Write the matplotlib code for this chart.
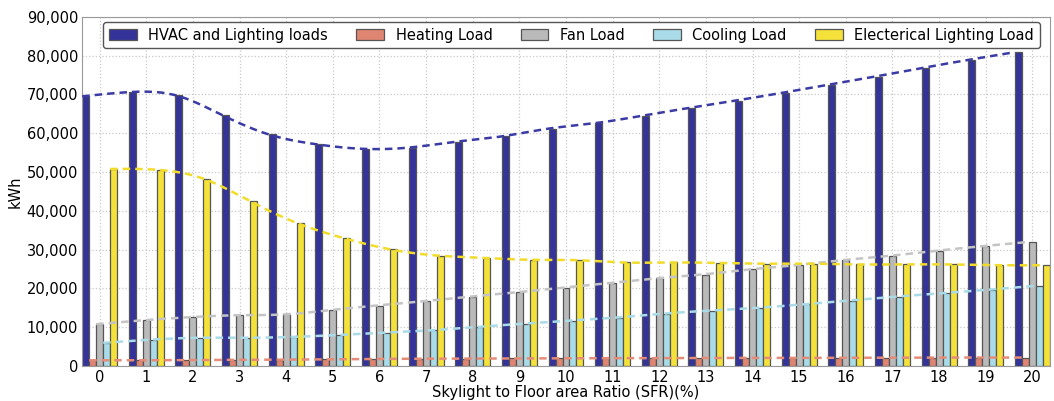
import numpy as np
import matplotlib
matplotlib.use('Agg')
import matplotlib.pyplot as plt
from matplotlib.ticker import FuncFormatter

# Skylight to floor area ratio (%)
sfr = list(range(21))

hvac_lighting = [69500, 70600, 69800, 64700, 59700, 57200, 56000, 56300, 57800, 59200,
                 61200, 62600, 64500, 66500, 68400, 70400, 72500, 74600, 76800, 78900, 80900]
heating = [1500, 1500, 1550, 1600, 1650, 1750, 1850, 1900, 1950, 2000,
           2000, 2050, 2050, 2100, 2100, 2100, 2150, 2150, 2200, 2200, 2200]
fan = [10800, 11800, 12600, 13100, 13300, 14400, 15600, 16700, 17900, 19000,
       20200, 21400, 22600, 23600, 24900, 26000, 27300, 28400, 29700, 30900, 32000]
cooling = [6000, 6800, 7300, 7300, 7500, 8000, 8600, 9200, 10100, 10900,
           11700, 12500, 13500, 14300, 15000, 15900, 16900, 17900, 18800, 19700, 20700]
lighting = [50800, 50600, 48300, 42500, 36900, 33000, 30100, 28500, 27900, 27400,
            27300, 26700, 26700, 26600, 26400, 26400, 26200, 26200, 26200, 26000, 26000]

series = [
    ('HVAC and Lighting loads', hvac_lighting, '#333399', '#3b3ba6'),
    ('Heating Load', heating, '#df8571', '#e58c78'),
    ('Fan Load', fan, '#bababa', '#c4c4c4'),
    ('Cooling Load', cooling, '#a9dce8', '#a9dce8'),
    ('Electerical Lighting Load', lighting, '#f4e23a', '#f2dc2a'),
]


def natural_spline(x, y, n=400):
    # natural cubic spline through the points, for the smooth trend lines
    x = np.asarray(x, float)
    y = np.asarray(y, float)
    h = np.diff(x)
    m = len(x)
    A = np.zeros((m, m))
    b = np.zeros(m)
    A[0, 0] = A[-1, -1] = 1
    for i in range(1, m - 1):
        A[i, i - 1] = h[i - 1]
        A[i, i] = 2 * (h[i - 1] + h[i])
        A[i, i + 1] = h[i]
        b[i] = 6 * ((y[i + 1] - y[i]) / h[i] - (y[i] - y[i - 1]) / h[i - 1])
    M = np.linalg.solve(A, b)
    xs = np.linspace(x[0], x[-1], n)
    k = np.clip(np.searchsorted(x, xs) - 1, 0, m - 2)
    t0 = x[k + 1] - xs
    t1 = xs - x[k]
    hk = h[k]
    ys = (M[k] * t0 ** 3 / (6 * hk) + M[k + 1] * t1 ** 3 / (6 * hk)
          + (y[k] / hk - M[k] * hk / 6) * t0 + (y[k + 1] / hk - M[k + 1] * hk / 6) * t1)
    return xs, ys


fig = plt.figure(figsize=(10.54, 4.01), dpi=100)
ax = fig.add_axes([0.078, 0.087, 0.918, 0.871])

width = 0.15
x = np.array(sfr, float)
for i, (name, vals, color, lcolor) in enumerate(series):
    pos = x - 0.375 + i * width
    ax.bar(pos, vals, width, align='edge', color=color, edgecolor='#555555',
           linewidth=0.9, label=name, zorder=2)
    xs, ys = natural_spline(pos, vals)
    ax.plot(xs, ys, color=lcolor, linestyle='--', dashes=(3, 2), linewidth=1.8, zorder=3)

ax.set_xlim(-0.375, 20.375)
ax.set_ylim(0, 90000)
ax.set_xticks(sfr)
ax.set_yticks(range(0, 90001, 10000))
ax.yaxis.set_major_formatter(FuncFormatter(lambda v, p: f'{int(v):,}'))
ax.tick_params(length=0, labelsize=10.5, pad=3)
ax.grid(True, linestyle=':', color='#c8c8c8', linewidth=0.9, zorder=0)
ax.set_axisbelow(True)
for s in ax.spines.values():
    s.set_color('#999999')

ax.set_xlabel('Skylight to Floor area Ratio (SFR)(%)', fontsize=10.5, labelpad=0)
ax.set_ylabel('kWh', fontsize=10.5, labelpad=3)

ax.legend(loc='upper left', bbox_to_anchor=(0.0217, 0.986, 0.968, 0), mode='expand',
          ncol=5, fontsize=10.5, borderaxespad=0, handlelength=1.9, fancybox=True,
          edgecolor='#555555', framealpha=1)

fig.savefig('out.png', dpi=100)
